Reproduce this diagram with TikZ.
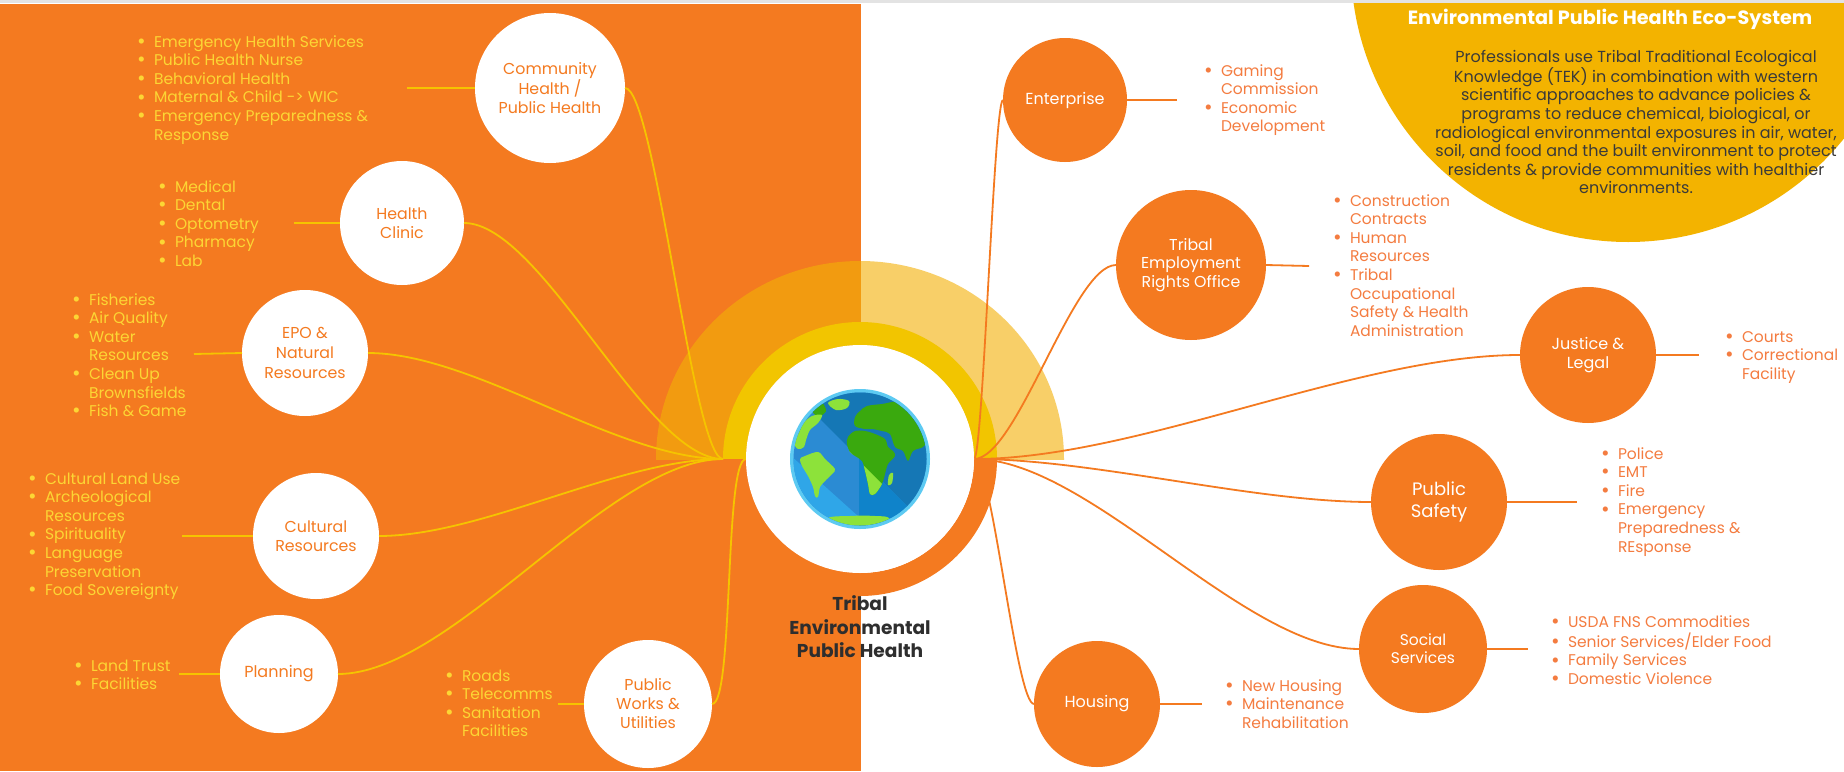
\documentclass[tikz,border=0pt]{standalone}
\usepackage{fontspec}
\setmainfont{Poppins}
\newcommand\fs[2]{\fontsize{#1}{#2}\selectfont}
\newcommand\bu{\makebox[25pt][c]{\raisebox{-1.2pt}{\scalebox{1.35}{\textbullet}}}}
\newcommand\nb{\hspace*{25pt}}
\definecolor{org}{HTML}{F47A20}
\definecolor{halfL}{HTML}{F29B10}
\definecolor{halfR}{HTML}{F8CF68}
\definecolor{ring}{HTML}{F2C500}
\definecolor{lyel}{HTML}{F5C400}
\definecolor{ltxt}{HTML}{FCD634}
\definecolor{rtxt}{HTML}{F47C40}
\definecolor{eco}{HTML}{F3B300}
\definecolor{dark}{HTML}{2E2E2E}
\definecolor{para}{HTML}{3A3A3A}
\definecolor{rim}{HTML}{5DCAF2}
\definecolor{oc}{HTML}{2B8BD3}
\definecolor{ocd}{HTML}{1577B5}
\definecolor{ocl}{HTML}{2FA6E8}
\definecolor{ocm}{HTML}{0F83CA}
\definecolor{gl}{HTML}{8DE23A}
\definecolor{gd}{HTML}{3AA90E}
\begin{document}
\begin{tikzpicture}[x=1pt,y=-1pt,
  every node/.style={inner sep=0pt, outer sep=0pt},
  wcirc/.style={circle, fill=white, text=org, align=center},
  ocirc/.style={circle, fill=org, text=white, align=center},
  lline/.style={draw=lyel, line width=1.8pt},
  rline/.style={draw=org, line width=1.8pt},
  llist/.style={anchor=north west, text=ltxt, font=\fs{15.5}{18.6}},
  rlist/.style={anchor=north west, text=rtxt, font=\fs{15.5}{18.6}},
  land/.style={smooth cycle, tension=0.55},
]
\useasboundingbox (0,0) rectangle (1844,771);
% backgrounds
\fill[white] (0,0) rectangle (1844,771);
\fill[org] (0,4) rectangle (861,771);
\begin{scope}
  \clip (0,0) rectangle (1844,771);
  \fill[eco] (1628,-35) circle [radius=277];
\end{scope}
\fill[gray!22] (0,0) rectangle (1844,3);
% half discs
\begin{scope}
  \clip (0,0) rectangle (861,459);
  \fill[halfL] (860,459) ellipse [x radius=204, y radius=198];
\end{scope}
\begin{scope}
  \clip (861,0) rectangle (1844,459);
  \fill[halfR] (860,459) ellipse [x radius=204, y radius=198];
\end{scope}
% rings
\node[circle, minimum size=274] (hub) at (860,459) {};
\node[circle, minimum size=228] (core) at (860,459) {};
\begin{scope}
  \clip (0,0) rectangle (1844,459);
  \fill[ring, even odd rule] (860,459) circle [radius=137] circle [radius=114];
\end{scope}
\begin{scope}
  \clip (0,459) rectangle (1844,771);
  \fill[org, even odd rule] (860,459) circle [radius=137] circle [radius=114];
\end{scope}

% left circles
\node[wcirc, minimum size=150, font=\fs{15.8}{18.6}] (comm) at (550,88) {Community\\Health /\\Public Health};
\node[wcirc, minimum size=124, font=\fs{15.8}{18.6}] (clinic) at (402,223) {Health\\Clinic};
\node[wcirc, minimum size=126, font=\fs{15.8}{20}] (epo) at (305,353) {EPO \&\\Natural\\Resources};
\node[wcirc, minimum size=126, font=\fs{15.8}{19}] (cult) at (316,536) {Cultural\\Resources};
\node[wcirc, minimum size=118, font=\fs{16}{19}] (plan) at (279,674) {Planning};
\node[wcirc, minimum size=128, font=\fs{15.8}{19}] (pw) at (648,704) {Public\\Works \&\\Utilities};
% right circles
\node[ocirc, minimum size=124, font=\fs{16}{19}] (ent) at (1065,100) {Enterprise};
\node[ocirc, minimum size=150, font=\fs{15.8}{18.5}] (tero) at (1191,265) {Tribal\\Employment\\Rights Office};
\node[ocirc, minimum size=136, font=\fs{16}{19}] (just) at (1588,355) {Justice \&\\Legal};
\node[ocirc, minimum size=136, font=\fs{18}{22}] (safe) at (1439,502) {Public\\Safety};
\node[ocirc, minimum size=128, font=\fs{15.5}{18.2}] (soc) at (1423,649) {Social\\Services};
\node[ocirc, minimum size=126, font=\fs{16}{19}] (hous) at (1097,704) {Housing};

% connectors left
\draw[lline] (comm.east) .. controls +(30,0) and +(-30,0) .. (hub.west);
\draw[lline] (clinic.east) .. controls +(78,0) and +(-78,0) .. (hub.west);
\draw[lline] (epo.east) .. controls +(107,0) and +(-107,0) .. (hub.west);
\draw[lline] (cult.east) .. controls +(103,0) and +(-103,0) .. (hub.west);
\draw[lline] (plan.east) .. controls +(115,0) and +(-115,0) .. (hub.west);
\draw[lline] (pw.east) .. controls +(22,0) and +(-22,0) .. (core.west);
% connectors right
\draw[rline] (core.east) .. controls +(9,0) and +(-9,0) .. (ent.west);
\draw[rline] (core.east) .. controls +(43,0) and +(-43,0) .. (tero.west);
\draw[rline] (core.east) .. controls +(164,0) and +(-164,0) .. (just.west);
\draw[rline] (core.east) .. controls +(119,0) and +(-119,0) .. (safe.west);
\draw[rline] (core.east) .. controls +(115,0) and +(-115,0) .. (soc.west);
\draw[rline] (core.east) .. controls +(18,0) and +(-18,0) .. (hous.west);

% short leader lines
\coordinate (commL) at (407,88);
\coordinate (clinicL) at (294,223);
\coordinate (epoL) at (194,354);
\coordinate (cultL) at (182,536);
\coordinate (planL) at (179,674);
\coordinate (pwL) at (558,704);
\coordinate (entR) at (1177,100);
\coordinate (teroR) at (1309,266);
\coordinate (justR) at (1699,355);
\coordinate (safeR) at (1577,502);
\coordinate (socR) at (1528,649);
\coordinate (housR) at (1202,704);
\draw[lline] (commL) -- (comm.west);
\draw[lline] (clinicL) -- (clinic.west);
\draw[lline] (epoL) -- (epo.west);
\draw[lline] (cultL) -- (cult.west);
\draw[lline] (planL) -- (plan.west);
\draw[lline] (pwL) -- (pw.west);
\draw[rline] (ent.east) -- (entR);
\draw[rline] (tero.east) -- (teroR);
\draw[rline] (just.east) -- (justR);
\draw[rline] (safe.east) -- (safeR);
\draw[rline] (soc.east) -- (socR);
\draw[rline] (hous.east) -- (housR);

% core and globe
\fill[white] (core.center) circle [radius=114];
\begin{scope}[shift={(860,459)}]
  \fill[rim] (0,0) circle [radius=70];
  \begin{scope}
    \clip (0,0) circle [radius=66.5];
    \fill[oc] (-70,-70) rectangle (70,70);
    \fill[ocd] (-100,-100) -- (100,100) -- (100,-100) -- cycle;
    \fill[ocm] (-1,-1) -- (100,100) -- (-1,100) -- cycle;
    \fill[ocl] (-100,-31) -- (-1,58) -- (-1,100) -- (-100,100) -- cycle;
    % Americas and arctic (light)
    \fill[gl] plot[land] coordinates {(-32,-56) (-22,-60) (-11,-58) (-13,-51) (-24,-49)};
    \fill[gd] plot[land] coordinates {(-47,-52) (-38,-56) (-34,-48) (-40,-43) (-46,-45)};
    \fill[gl] plot[land] coordinates {(-62,-24) (-56,-36) (-48,-43) (-38,-44) (-42,-36) (-50,-29) (-54,-19) (-56,-12) (-62,-10) (-66,-16)};
    \fill[gl] plot[land] coordinates {(-55,-3) (-42,-7) (-35,0) (-25,10) (-28,15) (-35,22) (-40,28) (-42,38) (-45,37) (-47,28) (-52,17) (-58,7) (-60,0)};
    % Eurasia (dark)
    \fill[gd] plot[land] coordinates {(-5,-42) (0,-48) (7,-53) (22,-55) (38,-57) (52,-48) (60,-38) (65,-18) (63,-12) (53,-8) (48,2) (43,-8) (35,-12) (30,-25) (22,-28) (12,-30) (5,-30) (-5,-33)};
    % Africa: dark above the diagonal, light below
    \fill[gd] plot[land] coordinates {(-12,-22) (-5,-28) (5,-28) (15,-25) (25,-20) (28,-12) (33,-8) (35,-3) (28,5) (25,15) (22,25) (15,35) (10,35) (8,25) (5,12) (2,2) (-5,-3) (-10,-7) (-13,-15)};
    \begin{scope}
      \clip (-100,-97) -- (100,103) -- (-100,103) -- cycle;
      \fill[gl] plot[land] coordinates {(-12,-22) (-5,-28) (5,-28) (15,-25) (25,-20) (28,-12) (33,-8) (35,-3) (28,5) (25,15) (22,25) (15,35) (10,35) (8,25) (5,12) (2,2) (-5,-3) (-10,-7) (-13,-15)};
    \end{scope}
    \fill[gl] plot[land] coordinates {(29,16) (33,14) (32,24) (28,26)};
    % Antarctica
    \fill[gl] plot[land] coordinates {(-34,60) (-10,57) (15,57) (30,60) (30,80) (-34,80)};
  \end{scope}
\end{scope}

% center label
\node[font=\bfseries\fs{18.6}{23.5}, text=dark, align=center] (ctitle) at (860,627) {Tribal\\Environmental\\Public Health};

% eco system text
\node[font=\bfseries\fs{19.2}{22}, text=white] (ecot) at (1610,19) {Environmental Public Health Eco-System};
\node[font=\fs{16}{18.6}, text=para, align=center] (ecop) at (1636,122) {Professionals use Tribal Traditional Ecological\\Knowledge (TEK) in combination with western\\scientific approaches to advance policies \&\\programs to reduce chemical, biological, or\\radiological environmental exposures in air, water,\\soil, and food and the built environment to protect\\residents \& provide communities with healthier\\environments.};

% left lists
\node[llist] (commT) at (129,34) {\begin{tabular}{@{}l@{}}\bu Emergency Health Services\\\bu Public Health Nurse\\\bu Behavioral Health\\\bu Maternal \& Child -> WIC\\\bu Emergency Preparedness \&\\\nb Response\end{tabular}};
\node[llist] (clinicT) at (150,179) {\begin{tabular}{@{}l@{}}\bu Medical\\\bu Dental\\\bu Optometry\\\bu Pharmacy\\\bu Lab\end{tabular}};
\node[llist] (epoT) at (64,292) {\begin{tabular}{@{}l@{}}\bu Fisheries\\\bu Air Quality\\\bu Water\\\nb Resources\\\bu Clean Up\\\nb Brownsfields\\\bu Fish \& Game\end{tabular}};
\node[llist] (cultT) at (20,471) {\begin{tabular}{@{}l@{}}\bu Cultural Land Use\\\bu Archeological\\\nb Resources\\\bu Spirituality\\\bu Language\\\nb Preservation\\\bu Food Sovereignty\end{tabular}};
\node[llist] (planT) at (66,658) {\begin{tabular}{@{}l@{}}\bu Land Trust\\\bu Facilities\end{tabular}};
\node[llist] (pwT) at (437,668) {\begin{tabular}{@{}l@{}}\bu Roads\\\bu Telecomms\\\bu Sanitation\\\nb Facilities\end{tabular}};
% right lists
\node[rlist] (entT) at (1196,63) {\begin{tabular}{@{}l@{}}\bu Gaming\\\nb Commission\\\bu Economic\\\nb Development\end{tabular}};
\node[rlist] (teroT) at (1325,193) {\begin{tabular}{@{}l@{}}\bu Construction\\\nb Contracts\\\bu Human\\\nb Resources\\\bu Tribal\\\nb Occupational\\\nb Safety \& Health\\\nb Administration\end{tabular}};
\node[rlist] (justT) at (1717,329) {\begin{tabular}{@{}l@{}}\bu Courts\\\bu Correctional\\\nb Facility\end{tabular}};
\node[rlist] (safeT) at (1593,446) {\begin{tabular}{@{}l@{}}\bu Police\\\bu EMT\\\bu Fire\\\bu Emergency\\\nb Preparedness \&\\\nb REsponse\end{tabular}};
\node[rlist] (socT) at (1543,614) {\begin{tabular}{@{}l@{}}\bu USDA FNS Commodities\\\bu Senior Services/Elder Food\\\bu Family Services\\\bu Domestic Violence\end{tabular}};
\node[rlist] (housT) at (1217,678) {\begin{tabular}{@{}l@{}}\bu New Housing\\\bu Maintenance\\\nb Rehabilitation\end{tabular}};
\end{tikzpicture}
\end{document}
